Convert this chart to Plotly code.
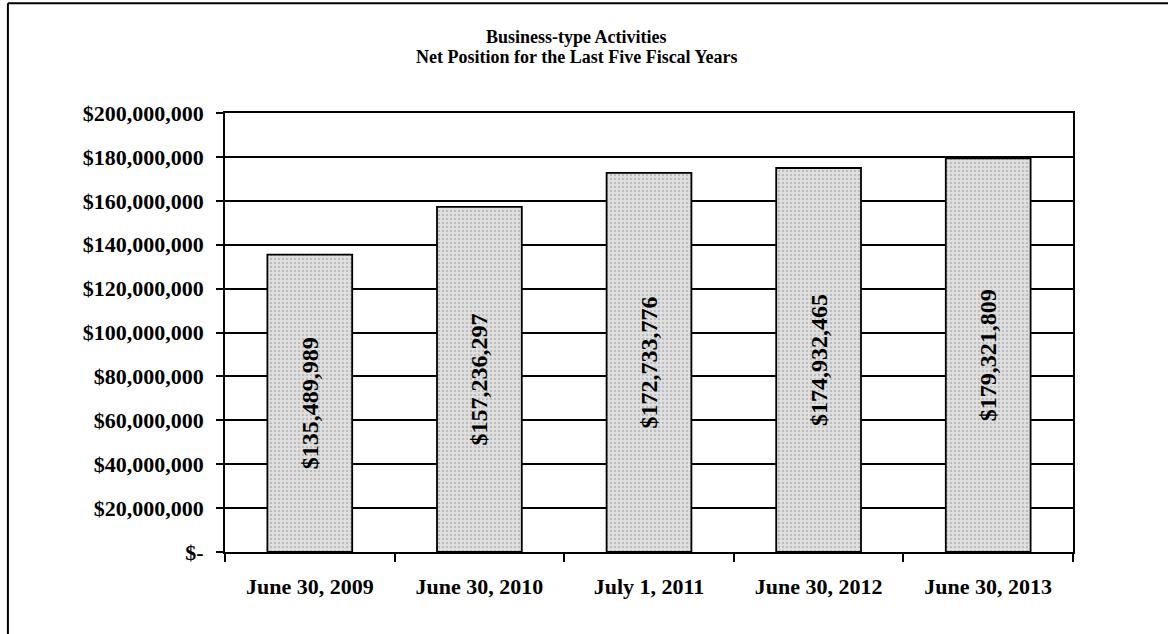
import plotly.graph_objects as go

# Net position of business-type activities, last five fiscal years
periods = ["June 30, 2009", "June 30, 2010", "July 1, 2011", "June 30, 2012", "June 30, 2013"]
net_position = [135489989, 157236297, 172733776, 174932465, 179321809]

y_tick_values = [0, 20000000, 40000000, 60000000, 80000000, 100000000,
                 120000000, 140000000, 160000000, 180000000, 200000000]
y_tick_labels = ["$-", "$20,000,000", "$40,000,000", "$60,000,000", "$80,000,000",
                 "$100,000,000", "$120,000,000", "$140,000,000", "$160,000,000",
                 "$180,000,000", "$200,000,000"]

title_lines = ["Business-type Activities", "Net Position for the Last Five Fiscal Years"]

SERIF = "Liberation Serif, Times New Roman, serif"

bar_labels = ["${:,}".format(v) for v in net_position]

fig = go.Figure(
    go.Bar(
        x=periods,
        y=net_position,
        text=bar_labels,
        textposition="inside",
        insidetextanchor="middle",
        textangle=-90,
        textfont=dict(family=SERIF, size=24, color="black", weight="bold"),
        marker=dict(
            color="#dcdcdc",
            line=dict(color="black", width=1.8),
            pattern=dict(shape=".", size=4, solidity=0.3,
                         fgcolor="#9a9a9a", bgcolor="#e0e0e0"),
        ),
        hoverinfo="x+y",
    )
)

fig.update_layout(
    width=1168,
    height=634,
    margin=dict(l=225, r=95, t=113, b=82),
    paper_bgcolor="white",
    plot_bgcolor="white",
    bargap=0.5,
    showlegend=False,
    font=dict(family=SERIF, color="black"),
    xaxis=dict(
        showline=True,
        linecolor="black",
        linewidth=1.8,
        mirror=True,
        ticks="outside",
        tickson="boundaries",
        ticklen=8,
        tickwidth=1.5,
        tickcolor="black",
        ticklabelstandoff=14,
        tickfont=dict(family=SERIF, size=22, color="black", weight="bold"),
        showgrid=False,
    ),
    yaxis=dict(
        range=[0, 200000000],
        tickvals=y_tick_values,
        ticktext=y_tick_labels,
        showline=True,
        linecolor="black",
        linewidth=1.8,
        mirror=True,
        ticks="outside",
        ticklen=7,
        tickwidth=1.5,
        tickcolor="black",
        ticklabelstandoff=8,
        tickfont=dict(family=SERIF, size=22, color="black", weight="bold"),
        showgrid=True,
        gridcolor="black",
        gridwidth=1.8,
        zeroline=False,
    ),
)

# Two-line chart heading
for i, line in enumerate(title_lines):
    fig.add_annotation(
        text="<b>" + line + "</b>",
        xref="paper", yref="paper",
        x=0.415, y=1.1727 - i * 0.0454,
        xanchor="center", yanchor="middle",
        showarrow=False,
        font=dict(family=SERIF, size=18, color="black"),
    )

# Page frame: left and top rules
fig.add_shape(type="line", xref="paper", yref="paper",
              x0=-0.256, x1=-0.256, y0=1.25, y1=-0.19,
              line=dict(color="black", width=2))
fig.add_shape(type="line", xref="paper", yref="paper",
              x0=-0.256, x1=1.12, y0=1.25, y1=1.25,
              line=dict(color="black", width=2))

fig.write_html("out.html")
